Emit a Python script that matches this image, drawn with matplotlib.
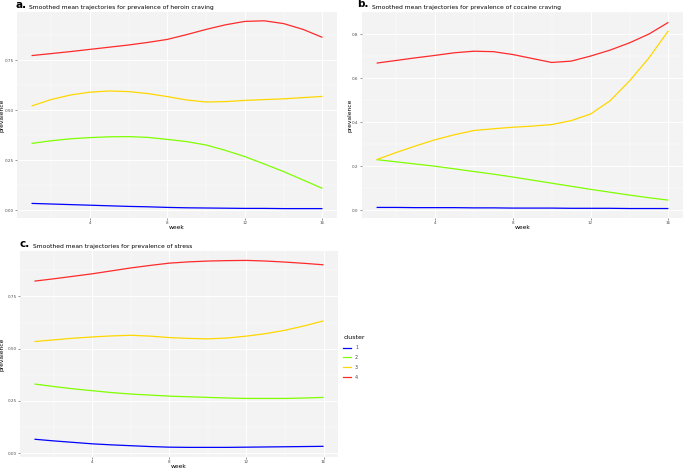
import matplotlib.pyplot as plt
from matplotlib.lines import Line2D

weeks = list(range(1, 17))
clusters = ['1', '2', '3', '4']
colors = ['#0000FF', '#7FFF00', '#FFD700', '#FF2A2A']

# panel a: heroin craving
heroin = {
    '1': [0.033, 0.030, 0.027, 0.024, 0.021, 0.018, 0.016, 0.013, 0.011, 0.010, 0.009, 0.008, 0.008, 0.007, 0.007, 0.007],
    '2': [0.333, 0.346, 0.356, 0.362, 0.366, 0.367, 0.363, 0.353, 0.342, 0.325, 0.298, 0.267, 0.230, 0.192, 0.150, 0.108],
    '3': [0.520, 0.552, 0.575, 0.589, 0.595, 0.592, 0.582, 0.567, 0.550, 0.540, 0.542, 0.548, 0.552, 0.556, 0.562, 0.568],
    '4': [0.772, 0.782, 0.792, 0.803, 0.814, 0.825, 0.838, 0.853, 0.877, 0.903, 0.926, 0.943, 0.946, 0.932, 0.903, 0.863],
}
# panel b: cocaine craving
cocaine = {
    '1': [0.013, 0.013, 0.012, 0.012, 0.012, 0.011, 0.011, 0.010, 0.010, 0.010, 0.009, 0.009, 0.009, 0.008, 0.008, 0.008],
    '2': [0.230, 0.220, 0.210, 0.200, 0.188, 0.176, 0.164, 0.151, 0.137, 0.123, 0.109, 0.095, 0.082, 0.069, 0.057, 0.046],
    '3': [0.230, 0.262, 0.292, 0.320, 0.343, 0.362, 0.370, 0.377, 0.382, 0.389, 0.407, 0.437, 0.497, 0.587, 0.692, 0.815],
    '4': [0.668, 0.680, 0.692, 0.703, 0.715, 0.722, 0.720, 0.707, 0.689, 0.671, 0.677, 0.700, 0.727, 0.760, 0.800, 0.853],
}
# panel c: stress
stress = {
    '1': [0.067, 0.059, 0.052, 0.045, 0.040, 0.036, 0.032, 0.029, 0.028, 0.028, 0.028, 0.029, 0.030, 0.031, 0.032, 0.033],
    '2': [0.331, 0.319, 0.308, 0.299, 0.290, 0.283, 0.278, 0.273, 0.270, 0.267, 0.264, 0.262, 0.262, 0.262, 0.264, 0.267],
    '3': [0.534, 0.542, 0.550, 0.556, 0.561, 0.564, 0.560, 0.553, 0.549, 0.547, 0.551, 0.560, 0.572, 0.588, 0.609, 0.633],
    '4': [0.823, 0.834, 0.846, 0.858, 0.872, 0.886, 0.898, 0.909, 0.915, 0.919, 0.921, 0.922, 0.919, 0.914, 0.908, 0.901],
}

W, H = 685, 469
fig = plt.figure(figsize=(W / 100, H / 100), dpi=100)


def px_axes(left, top, right, bottom):
    return fig.add_axes([left / W, 1 - bottom / H, (right - left) / W, (bottom - top) / H])


def draw_panel(ax, data, yticks, ylabels, ylim, letter, title, letter_xy, title_xy, ylab_x, xlab_y):
    ax.set_facecolor('#F3F3F3')
    for k, c in zip(clusters, colors):
        ax.plot(weeks, data[k], color=c, lw=0.9, solid_capstyle='butt')
    ax.set_xlim(0.25, 16.75)
    ax.set_ylim(*ylim)
    ax.set_xticks([4, 8, 12, 16])
    ax.set_xticks([2, 6, 10, 14], minor=True)
    ax.set_yticks(yticks)
    ax.set_yticklabels(ylabels)
    step = yticks[1] - yticks[0]
    ax.set_yticks([y + step / 2 for y in yticks], minor=True)
    ax.grid(True, which='major', color='white', lw=0.7)
    ax.grid(True, which='minor', color='white', lw=0.35)
    ax.set_axisbelow(True)
    for s in ax.spines.values():
        s.set_visible(False)
    ax.tick_params(which='major', length=1.5, width=0.4, color='#444444',
                   labelsize=3.0, labelcolor='#4D4D4D', pad=1)
    ax.tick_params(which='minor', length=0)
    ax.set_xlabel('week', fontsize=4.3)
    ax.set_ylabel('prevalence', fontsize=4.3)
    # place axis titles at pixel positions
    bb = ax.get_position()
    ax.yaxis.set_label_coords((ylab_x / W - bb.x0) / bb.width, 0.5)
    ax.xaxis.set_label_coords(0.5, ((1 - xlab_y / H) - bb.y0) / bb.height)
    fig.text(letter_xy[0] / W, 1 - letter_xy[1] / H, letter, fontsize=7.5,
             fontweight='bold', ha='left', va='center')
    fig.text(title_xy[0] / W, 1 - title_xy[1] / H, title, fontsize=4.3,
             ha='left', va='center')


ax_a = px_axes(17, 12, 337, 218)
draw_panel(ax_a, heroin, [0, 0.25, 0.5, 0.75], ['0.00', '0.25', '0.50', '0.75'],
           (-0.04, 0.99), 'a.', 'Smoothed mean trajectories for prevalence of heroin craving',
           (16, 5), (29, 7), 5, 225)

ax_b = px_axes(362, 12, 683, 218)
draw_panel(ax_b, cocaine, [0, 0.2, 0.4, 0.6, 0.8], ['0.0', '0.2', '0.4', '0.6', '0.8'],
           (-0.035, 0.893), 'b.', 'Smoothed mean trajectories for prevalence of cocaine craving',
           (357, 4), (372, 7), 352.5, 225)

ax_c = px_axes(20, 251, 338, 457)
draw_panel(ax_c, stress, [0, 0.25, 0.5, 0.75], ['0.00', '0.25', '0.50', '0.75'],
           (-0.018, 0.967), 'c.', 'Smoothed mean trajectories for prevalence of stress',
           (19, 244), (33, 246), 5, 463.5)

handles = [Line2D([0], [0], color=c, lw=0.9) for c in colors]
leg = fig.legend(handles, clusters, title='cluster', loc='upper left',
                 bbox_to_anchor=(339 / W, 1 - 331 / H), frameon=False,
                 fontsize=3.5, title_fontsize=4.5, handlelength=1.6,
                 labelspacing=1.0, handletextpad=0.8)
leg._legend_box.align = 'left'
for t in leg.get_texts():
    t.set_color('#4D4D4D')

fig.savefig('out.png', dpi=100)
